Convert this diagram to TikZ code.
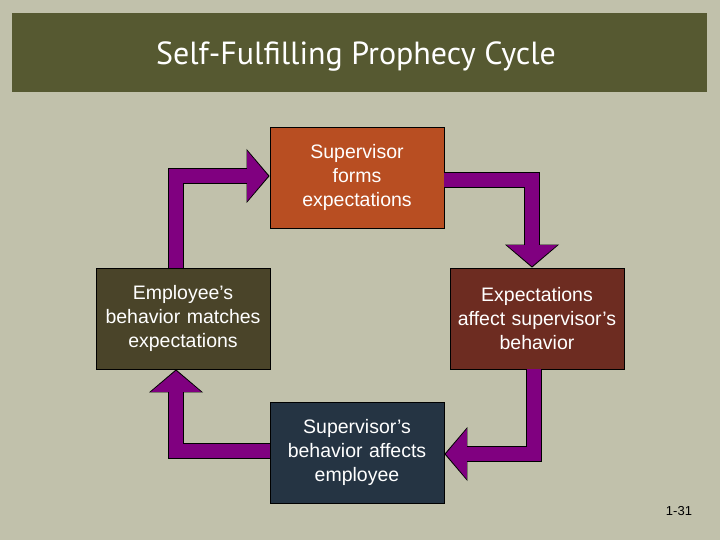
\documentclass[tikz,border=0pt]{standalone}
\usepackage{fontspec}
\setmainfont{Liberation Sans}
\newfontfamily\titlefont{PT Sans}
\usetikzlibrary{arrows.meta}
\definecolor{bg}{HTML}{C1C1AB}
\definecolor{titlebg}{HTML}{565931}
\definecolor{orangebox}{HTML}{B84E22}
\definecolor{olivebox}{HTML}{4A4429}
\definecolor{maroonbox}{HTML}{6D2C21}
\definecolor{slatebox}{HTML}{253443}
\definecolor{purp}{HTML}{800080}
\begin{document}
\begin{tikzpicture}[x=1pt,y=-1pt,
  box/.style={draw=black, line width=0.8pt, minimum width=174pt, minimum height=101pt,
    text width=170pt, align=center, text=white, inner sep=0pt,
    font=\fontsize{19.5}{24}\selectfont},
  fatarrow/.style={draw=purp, line width=14pt, line join=miter, shorten >=1.4pt,
    -{Triangle[width=50pt,length=21pt,line width=0pt]},
    preaction={draw=black, line width=16pt, shorten >=0pt,
      -{Triangle[width=54pt,length=23pt,line width=0pt]}}}
]
\useasboundingbox (0,0) rectangle (720,540);
\fill[bg] (0,0) rectangle (720,540);
\fill[titlebg] (12,13) rectangle (707,92);
\node[text=white, font=\titlefont\fontsize{32}{38}\selectfont] (title) at (356,57) {Self-Fulfilling Prophecy Cycle};

\node[box, fill=orangebox] (top) at (357,177.5) {Supervisor\\forms\\expectations};
\node[box, fill=olivebox] (left) at (183,318.5) {Employee’s\\behavior matches\\expectations};
\node[box, fill=maroonbox] (right) at (537,318.5) {Expectations\\affect supervisor’s\\behavior};
\node[box, fill=slatebox] (bottom) at (357,452.5) {Supervisor’s\\behavior affects\\employee};

\draw[fatarrow] ([xshift=-7.5pt]left.north) |- ([yshift=1.5pt]top.west);
\draw[fatarrow] ([yshift=-2.5pt]top.east) -| ([xshift=-5pt]right.north);
\draw[fatarrow] ([xshift=-3.5pt]right.south) |- ([yshift=-1.5pt]bottom.east);
\draw[fatarrow] ([yshift=1.5pt]bottom.west) -| ([xshift=-7pt]left.south);

\node[font=\fontsize{13}{15}\selectfont] (pagenum) at (679,511) {1-31};
\end{tikzpicture}
\end{document}
